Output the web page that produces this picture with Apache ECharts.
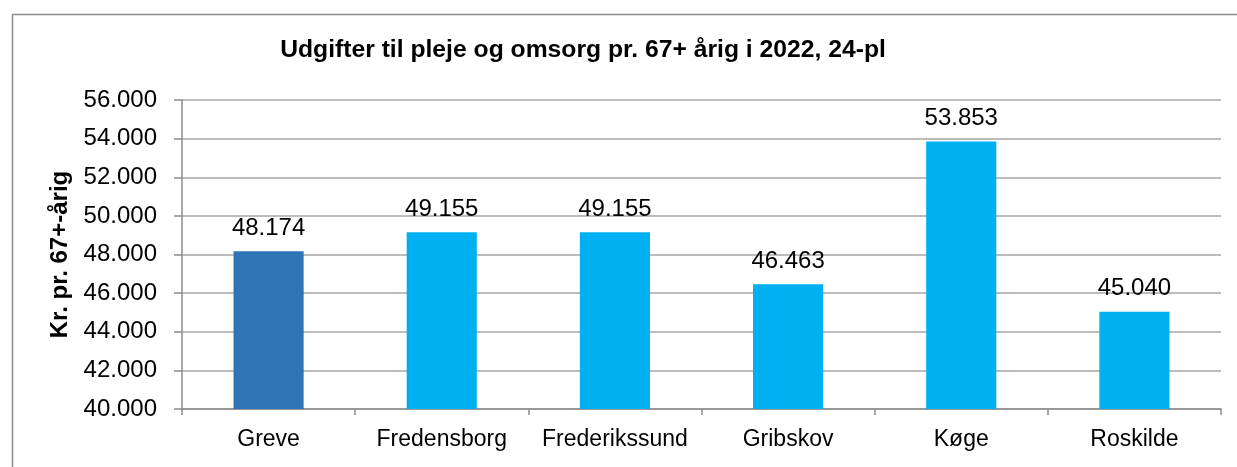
<!DOCTYPE html>
<html>
<head>
<meta charset="utf-8">
<script src="https://cdn.jsdelivr.net/npm/echarts@6/dist/echarts.min.js"></script>
<style>
html,body{margin:0;padding:0;background:#fff;}
#c{width:1237px;height:467px;}
</style>
</head>
<body>
<div id="c"></div>
<script>
const categories = ['Greve', 'Fredensborg', 'Frederikssund', 'Gribskov', 'Køge', 'Roskilde'];
const values = [48174, 49155, 49155, 46463, 53853, 45040];
const barColors = ['#2E75B6', '#00B0F0', '#00B0F0', '#00B0F0', '#00B0F0', '#00B0F0'];
const titleText = 'Udgifter til pleje og omsorg pr. 67+ årig i 2022, 24-pl';
const yAxisName = 'Kr. pr. 67+-årig';

function fmt(v) {
  return String(Math.round(v)).replace(/\B(?=(\d{3})+(?!\d))/g, '.');
}
const FONT = '"Liberation Sans", Arial, sans-serif';
const chart = echarts.init(document.getElementById('c'), null, {renderer: 'canvas'});
chart.setOption({
  animation: false,
  backgroundColor: '#ffffff',
  graphic: [{
    type: 'rect', left: 10, top: 12,
    shape: {width: 1300, height: 500},
    style: {fill: 'none', stroke: '#8c8c8c', lineWidth: 1.5},
    z: -1
  }],
  title: {
    text: titleText, left: 578, top: 33, textAlign: 'center',
    textStyle: {fontFamily: FONT, fontSize: 24.7, fontWeight: 'bold', color: '#000'}
  },
  grid: {left: 182, right: 16, top: 100, bottom: 58},
  xAxis: {
    type: 'category', data: categories,
    axisLine: {lineStyle: {color: '#8c8c8c', width: 1.5}},
    axisTick: {show: true, length: 6, interval: 0, alignWithLabel: false, lineStyle: {color: '#8c8c8c', width: 1.5}},
    axisLabel: {fontFamily: FONT, fontSize: 23, color: '#000', margin: 19, interval: 0}
  },
  yAxis: {
    type: 'value', min: 40000, max: 56000, interval: 2000,
    name: yAxisName, nameLocation: 'middle', nameGap: 108,
    nameTextStyle: {fontFamily: FONT, fontSize: 24, fontWeight: 'bold', color: '#000'},
    axisLine: {show: true, lineStyle: {color: '#8c8c8c', width: 1.5}},
    axisTick: {show: true, length: 8, lineStyle: {color: '#8c8c8c', width: 1.5}},
    axisLabel: {fontFamily: FONT, fontSize: 24, color: '#000', margin: 25, formatter: fmt},
    splitLine: {lineStyle: {color: '#a6a6a6', width: 1.5}}
  },
  series: [{
    type: 'bar',
    data: values.map((v, i) => ({value: v, itemStyle: {color: barColors[i]}})),
    barWidth: '40.5%',
    label: {
      show: true, position: 'top', distance: 11,
      fontFamily: FONT, fontSize: 24, color: '#000',
      formatter: p => fmt(p.value)
    }
  }]
});
</script>
</body>
</html>
